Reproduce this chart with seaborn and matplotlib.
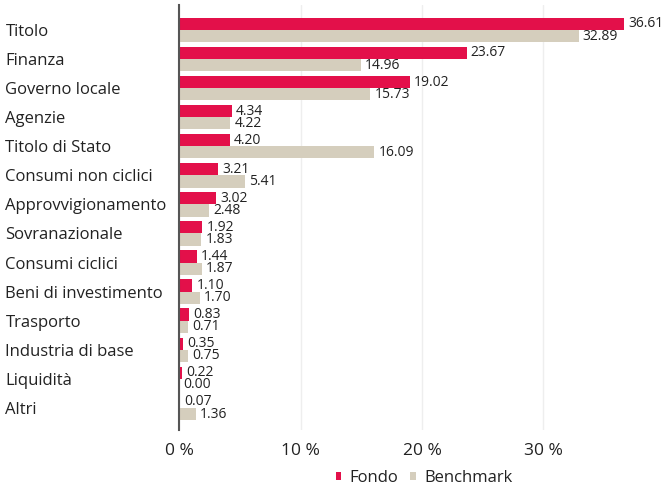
import pandas as pd
import seaborn as sns
import matplotlib.pyplot as plt

categorie = ['Titolo', 'Finanza', 'Governo locale', 'Agenzie', 'Titolo di Stato',
             'Consumi non ciclici', 'Approvvigionamento', 'Sovranazionale',
             'Consumi ciclici', 'Beni di investimento', 'Trasporto',
             'Industria di base', 'Liquidità', 'Altri']
fondo = [36.61, 23.67, 19.02, 4.34, 4.20, 3.21, 3.02, 1.92, 1.44, 1.10, 0.83, 0.35, 0.22, 0.07]
benchmark = [32.89, 14.96, 15.73, 4.22, 16.09, 5.41, 2.48, 1.83, 1.87, 1.70, 0.71, 0.75, 0.00, 1.36]
serie = ['Fondo', 'Benchmark']
colori = ['#E3104A', '#D5CEBD']

df = pd.DataFrame({'categoria': categorie, 'Fondo': fondo, 'Benchmark': benchmark})
df = df.melt(id_vars='categoria', var_name='serie', value_name='valore')

sns.set_theme(style='white')
plt.rcParams['font.family'] = ['Open Sans', 'DejaVu Sans']

fig = plt.figure(figsize=(6.71, 4.96), dpi=100)
ax = fig.add_axes([0.2668, 0.133, 0.7242, 0.857])

sns.barplot(data=df, y='categoria', x='valore', hue='serie', hue_order=serie,
            palette=colori, saturation=1, orient='h', width=0.84, ax=ax,
            linewidth=0, legend=True)

for cont in ax.containers:
    ax.bar_label(cont, fmt='%.2f', padding=3, fontsize=10, color='#222222')

ax.set_xlim(0, 40)
ax.set_ylim(13.76, -0.86)
ax.set_xticks([0, 10, 20, 30])
ax.set_xticklabels(['0 %', '10 %', '20 %', '30 %'], fontsize=12.5, color='#222222')
ax.set_xlabel('')
ax.set_ylabel('')
ax.tick_params(axis='x', length=0, pad=9)
ax.tick_params(axis='y', length=0, pad=125, labelsize=12, labelcolor='#222222')
for lab in ax.get_yticklabels():
    lab.set_horizontalalignment('left')

ax.grid(axis='x', color='#EEEEEE', linewidth=1)
ax.set_axisbelow(True)
for s in ['top', 'right', 'bottom']:
    ax.spines[s].set_visible(False)
ax.spines['left'].set_color('#555555')
ax.spines['left'].set_linewidth(1.5)

h, l = ax.get_legend_handles_labels()
ax.legend_.remove()
fig.legend(h, l, loc='lower center', bbox_to_anchor=(0.632, -0.01), ncol=2,
           frameon=False, fontsize=12, handlelength=0.35, handleheight=0.35,
           handletextpad=0.5, columnspacing=0.7, labelcolor='#222222')

fig.savefig('out.png', dpi=100)
